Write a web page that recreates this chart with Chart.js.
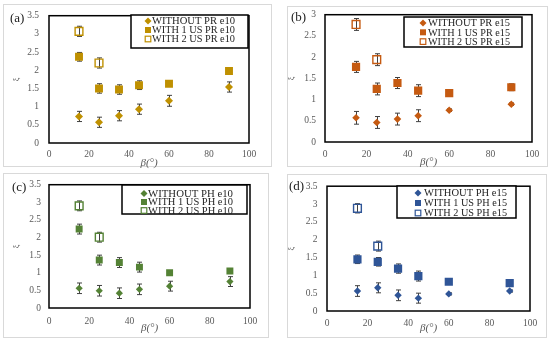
<!DOCTYPE html>
<html lang="en">
<head>
<meta charset="UTF-8">
<title>xi vs beta</title>
<style>
  body { margin: 0; background: #fff; width: 550px; height: 342px; position: relative; overflow: hidden; font-family: "Liberation Serif", serif; }
  .panel { position: absolute; width: 275px; height: 171px; }
  .frame { position: absolute; border: 1px solid #d9d9d9; box-sizing: border-box; }
  .tag { position: absolute; font-size: 13px; line-height: 13px; color: #222; }
  canvas { position: absolute; left: 0; top: 0; }
</style>
</head>
<body>
<div class="panel" style="left:0;top:0">
  <div class="frame" style="left:3px;top:4px;width:269px;height:163px"></div>
  <canvas id="chartA" width="275" height="171"></canvas>
  <div class="tag" style="left:10px;top:11px">(a)</div>
</div>
<div class="panel" style="left:275px;top:0">
  <div class="frame" style="left:12px;top:6px;width:261px;height:161px"></div>
  <canvas id="chartB" width="275" height="171"></canvas>
  <div class="tag" style="left:16px;top:10px">(b)</div>
</div>
<div class="panel" style="left:0;top:171px">
  <div class="frame" style="left:3px;top:2px;width:266px;height:165px"></div>
  <canvas id="chartC" width="275" height="171"></canvas>
  <div class="tag" style="left:12px;top:9px">(c)</div>
</div>
<div class="panel" style="left:275px;top:171px">
  <div class="frame" style="left:12px;top:3px;width:260px;height:164px"></div>
  <canvas id="chartD" width="275" height="171"></canvas>
  <div class="tag" style="left:14px;top:8px">(d)</div>
</div>

<script src="https://cdn.jsdelivr.net/npm/chart.js"></script>
<script>
// beta angles (deg)
const betaAll = [15, 25, 35, 45, 60, 90];
const betaTwo = [15, 25];

// (a) PR e10
const prE10Without    = [0.73, 0.57, 0.75, 0.93, 1.16, 1.54];
const prE10WithoutErr = [0.14, 0.14, 0.14, 0.14, 0.15, 0.14];
const prE10One        = [2.37, 1.50, 1.47, 1.59, 1.63, 1.98];
const prE10OneErr     = [0.12, 0.13, 0.13, 0.12, 0.05, 0.05];
const prE10Two        = [3.07, 2.20];
const prE10TwoErr     = [0.14, 0.14];

// (b) PR e15
const prE15Without    = [0.57, 0.46, 0.54, 0.62, 0.75, 0.89];
const prE15WithoutErr = [0.15, 0.14, 0.14, 0.14, 0.03, 0.03];
const prE15One        = [1.77, 1.25, 1.39, 1.21, 1.15, 1.29];
const prE15OneErr     = [0.13, 0.14, 0.13, 0.14, 0.03, 0.08];
const prE15Two        = [2.77, 1.94];
const prE15TwoErr     = [0.14, 0.14];

// (c) PH e10
const phE10Without    = [0.56, 0.49, 0.42, 0.53, 0.62, 0.75];
const phE10WithoutErr = [0.15, 0.15, 0.15, 0.15, 0.14, 0.14];
const phE10One        = [2.24, 1.36, 1.29, 1.16, 1.00, 1.05];
const phE10OneErr     = [0.14, 0.14, 0.14, 0.14, 0.03, 0.03];
const phE10Two        = [2.90, 2.01];
const phE10TwoErr     = [0.14, 0.14];

// (d) PH e15
const phE15Without    = [0.56, 0.65, 0.44, 0.36, 0.48, 0.56];
const phE15WithoutErr = [0.15, 0.14, 0.15, 0.14, 0.03, 0.03];
const phE15One        = [1.45, 1.38, 1.19, 0.98, 0.82, 0.78];
const phE15OneErr     = [0.12, 0.12, 0.13, 0.14, 0.04, 0.05];
const phE15Two        = [2.88, 1.82];
const phE15TwoErr     = [0.13, 0.14];

const FONT = '"Liberation Serif", "Times New Roman", serif';
const TICK_COLOR = '#595959';

function pts(xs, ys) {
  return ys.map((v, i) => ({ x: xs[i], y: v }));
}

// error bars under the markers, plot frame and boxed legend on top
const panelDeco = {
  id: 'panelDeco',
  beforeDatasetsDraw(chart) {
    const ctx = chart.ctx;
    const ys = chart.scales.y;
    ctx.save();
    ctx.strokeStyle = '#404040';
    ctx.lineWidth = 1;
    chart.data.datasets.forEach((ds, i) => {
      chart.getDatasetMeta(i).data.forEach((pt, j) => {
        const v = ds.data[j].y, e = ds.err[j];
        const t = ys.getPixelForValue(v + e);
        const b = ys.getPixelForValue(v - e);
        const px = Math.round(pt.x) + 0.5;
        ctx.beginPath();
        ctx.moveTo(px, t); ctx.lineTo(px, b);
        ctx.moveTo(px - 2.5, t); ctx.lineTo(px + 2.5, t);
        ctx.moveTo(px - 2.5, b); ctx.lineTo(px + 2.5, b);
        ctx.stroke();
      });
    });
    ctx.restore();
  },
  afterDraw(chart) {
    const ctx = chart.ctx;
    const a = chart.chartArea;
    const o = chart.options.plugins.panelDeco;
    ctx.save();
    ctx.strokeStyle = '#000';
    ctx.lineWidth = 1.5;
    ctx.strokeRect(a.left, a.top, a.right - a.left, a.bottom - a.top);

    const [x1, y1, x2, y2] = o.box;
    ctx.fillStyle = '#fff';
    ctx.fillRect(x1, y1, x2 - x1, y2 - y1);
    ctx.strokeRect(x1, y1, x2 - x1, y2 - y1);

    ctx.font = '11px ' + FONT;
    ctx.textBaseline = 'middle';
    chart.data.datasets.forEach((ds, i) => {
      const cy = o.rowY + i * o.rowStep;
      const mx = o.markX;
      const c = ds.pointBorderColor;
      if (ds.pointStyle === 'rectRot') {
        ctx.fillStyle = c;
        ctx.beginPath();
        ctx.moveTo(mx, cy - 3.5); ctx.lineTo(mx + 3.5, cy);
        ctx.lineTo(mx, cy + 3.5); ctx.lineTo(mx - 3.5, cy);
        ctx.closePath(); ctx.fill();
      } else if (ds.open) {
        ctx.strokeStyle = c; ctx.lineWidth = 1.2;
        ctx.strokeRect(mx - 2.8, cy - 2.8, 5.6, 5.6);
      } else {
        ctx.fillStyle = c;
        ctx.fillRect(mx - 3, cy - 3, 6, 6);
      }
      ctx.fillStyle = '#1f1f1f';
      ctx.fillText(ds.label, o.textX, cy + 0.5, o.textEnd - o.textX);
    });
    ctx.restore();
  }
};

function tickText(v) {
  return String(Math.round(v * 10) / 10);
}

function makePanel(id, cfg) {
  const col = cfg.color;
  const datasets = [
    { label: cfg.labels[0], data: pts(betaAll, cfg.without), err: cfg.withoutErr,
      pointStyle: 'rectRot', pointRadius: cfg.diaR, pointBackgroundColor: col, pointBorderColor: col, pointBorderWidth: 0 },
    { label: cfg.labels[1], data: pts(betaAll, cfg.one), err: cfg.oneErr,
      pointStyle: 'rect', pointRadius: cfg.sqR, pointBackgroundColor: col, pointBorderColor: col, pointBorderWidth: 0 },
    { label: cfg.labels[2], data: pts(betaTwo, cfg.two), err: cfg.twoErr, open: true,
      pointStyle: 'rect', pointRadius: 5.5, pointBackgroundColor: 'rgba(255,255,255,0)', pointBorderColor: col, pointBorderWidth: 1.4 }
  ];
  const [L, T, R, B] = cfg.area;
  return new Chart(document.getElementById(id), {
    type: 'scatter',
    data: { datasets },
    options: {
      responsive: false,
      animation: false,
      events: [],
      layout: { padding: { left: 0, top: T, right: 275 - R, bottom: 0 } },
      plugins: {
        legend: { display: false },
        tooltip: { enabled: false },
        panelDeco: cfg.legend
      },
      scales: {
        x: {
          type: 'linear', min: 0, max: 100,
          grid: { display: false, drawTicks: false },
          border: { display: false },
          ticks: { stepSize: 20, padding: cfg.xPad, color: TICK_COLOR, font: { family: FONT, size: 9.5 } },
          title: { display: true, text: 'β(°)', color: TICK_COLOR,
                   font: { family: FONT, size: 11, style: 'italic' }, padding: { top: 0, bottom: cfg.titlePad } },
          afterFit(s) { s.height = 171 - B; }
        },
        y: {
          min: 0, max: cfg.yMax,
          grid: { display: false, drawTicks: false },
          border: { display: false },
          ticks: { stepSize: 0.5, padding: cfg.yPad, color: TICK_COLOR, font: { family: FONT, size: 9.5 }, callback: tickText },
          title: { display: true, text: 'ξ', color: TICK_COLOR,
                   font: { family: FONT, size: 8 }, padding: { top: 12, bottom: 0 } },
          afterFit(s) { s.width = L; }
        }
      }
    },
    plugins: [panelDeco]
  });
}

makePanel('chartA', {
  color: '#BF9000',
  labels: ['WITHOUT PR e10', 'WITH 1 US PR e10', 'WITH 2 US PR e10'],
  without: prE10Without, withoutErr: prE10WithoutErr,
  one: prE10One, oneErr: prE10OneErr,
  two: prE10Two, twoErr: prE10TwoErr,
  diaR: 4, sqR: 5.6, yMax: 3.5,
  area: [49, 14, 249, 143], xPad: 6, yPad: 10, titlePad: 1.5,
  legend: { box: [131, 15, 248, 48], markX: 148, textX: 152, textEnd: 235, rowY: 21, rowStep: 9 }
});

makePanel('chartB', {
  color: '#C55A11',
  labels: ['WITHOUT PR e15', 'WITH 1 US PR e15', 'WITH 2 US PR e15'],
  without: prE15Without, withoutErr: prE15WithoutErr,
  one: prE15One, oneErr: prE15OneErr,
  two: prE15Two, twoErr: prE15TwoErr,
  diaR: 3.8, sqR: 5.8, yMax: 3,
  area: [50, 14, 257, 142], xPad: 6.5, yPad: 9, titlePad: 2.5,
  legend: { box: [129, 17, 247, 47], markX: 148, textX: 153, textEnd: 235, rowY: 23, rowStep: 9.3 }
});

makePanel('chartC', {
  color: '#548235',
  labels: ['WITHOUT PH e10', 'WITH 1 US PH e10', 'WITH 2 US PH e10'],
  without: phE10Without, withoutErr: phE10WithoutErr,
  one: phE10One, oneErr: phE10OneErr,
  two: phE10Two, twoErr: phE10TwoErr,
  diaR: 3.6, sqR: 4.9, yMax: 3.5,
  area: [49, 12, 250, 137], xPad: 8, yPad: 8, titlePad: 7.5,
  legend: { box: [122, 14, 247, 43], markX: 144, textX: 148, textEnd: 233, rowY: 22.5, rowStep: 8.5 }
});

makePanel('chartD', {
  color: '#2F5597',
  labels: ['WITHOUT PH e15', 'WITH 1 US PH e15', 'WITH 2 US PH e15'],
  without: phE15Without, withoutErr: phE15WithoutErr,
  one: phE15One, oneErr: phE15OneErr,
  two: phE15Two, twoErr: phE15TwoErr,
  diaR: 3.7, sqR: 5.8, yMax: 3.5,
  area: [52, 12, 255, 140], xPad: 6.5, yPad: 9.5, titlePad: 7.5,
  legend: { box: [122, 15, 241, 47], markX: 143, textX: 149, textEnd: 232, rowY: 22, rowStep: 10 }
});
</script>
</body>
</html>
